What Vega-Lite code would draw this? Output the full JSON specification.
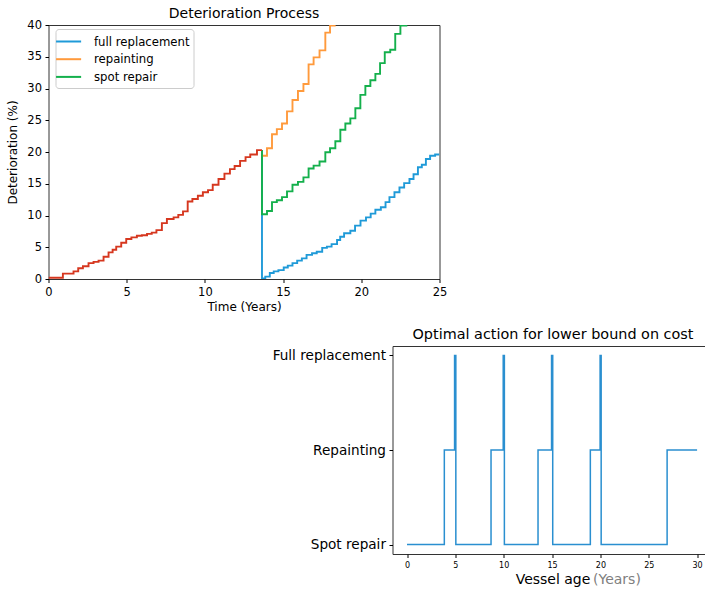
{
  "$schema": "https://vega.github.io/schema/vega-lite/v6.json",
  "autosize": {"type": "pad"},
  "padding": {"left": 5.5, "top": 6, "right": 0, "bottom": 0},
  "bounds": "flush",
  "spacing": 67,
  "config": {
    "font": "DejaVu Sans",
    "view": {"stroke": null},
    "axis": {
      "domain": false,
      "grid": false,
      "ticks": true,
      "tickColor": "#000",
      "tickSize": 3.5,
      "labelColor": "#000",
      "titleColor": "#000",
      "labelPadding": 3.5,
      "labelFlush": false,
      "labelOverlap": false,
      "titleFontWeight": "normal",
      "labelFontSize": 11.5,
      "titleFontSize": 12
    },
    "title": {"color": "#000", "fontWeight": "normal"}
  },
  "datasets": {
    "initial": [
      {"t": 0, "d": 0.2}, {"t": 0.92, "d": 0.85}, {"t": 1.6, "d": 1.2}, {"t": 1.9, "d": 1.7},
      {"t": 2.2, "d": 2.0}, {"t": 2.56, "d": 2.5}, {"t": 2.88, "d": 2.7}, {"t": 3.2, "d": 2.9},
      {"t": 3.52, "d": 3.5}, {"t": 3.84, "d": 4.2}, {"t": 4.1, "d": 4.6}, {"t": 4.33, "d": 5.1},
      {"t": 4.65, "d": 5.7}, {"t": 4.97, "d": 6.3}, {"t": 5.3, "d": 6.55}, {"t": 5.65, "d": 6.8},
      {"t": 5.97, "d": 6.9}, {"t": 6.3, "d": 7.1}, {"t": 6.6, "d": 7.3}, {"t": 6.9, "d": 7.7},
      {"t": 7.25, "d": 8.8}, {"t": 7.57, "d": 9.45}, {"t": 8.0, "d": 9.7}, {"t": 8.3, "d": 10.1},
      {"t": 8.6, "d": 10.65}, {"t": 8.9, "d": 12.2}, {"t": 9.2, "d": 12.6}, {"t": 9.55, "d": 13.1},
      {"t": 9.87, "d": 13.65}, {"t": 10.2, "d": 14.0}, {"t": 10.5, "d": 14.85}, {"t": 10.87, "d": 15.75},
      {"t": 11.25, "d": 16.6}, {"t": 11.6, "d": 17.3}, {"t": 11.9, "d": 17.8}, {"t": 12.25, "d": 18.6},
      {"t": 12.6, "d": 19.2}, {"t": 12.9, "d": 19.6}, {"t": 13.33, "d": 20.3}, {"t": 13.65, "d": 20.3}
    ],
    "branches": [
      {"s": "full replacement", "i": 0, "t": 13.65, "d": 20.3},
      {"s": "full replacement", "i": 1, "t": 13.65, "d": 0.1},
      {"s": "full replacement", "i": 2, "t": 13.86, "d": 0.37},
      {"s": "full replacement", "i": 3, "t": 14.15, "d": 0.95},
      {"s": "full replacement", "i": 4, "t": 14.4, "d": 1.2},
      {"s": "full replacement", "i": 5, "t": 14.7, "d": 1.4},
      {"s": "full replacement", "i": 6, "t": 15.04, "d": 1.8},
      {"s": "full replacement", "i": 7, "t": 15.3, "d": 2.1},
      {"s": "full replacement", "i": 8, "t": 15.6, "d": 2.5},
      {"s": "full replacement", "i": 9, "t": 15.9, "d": 2.9},
      {"s": "full replacement", "i": 10, "t": 16.2, "d": 3.25},
      {"s": "full replacement", "i": 11, "t": 16.5, "d": 3.8},
      {"s": "full replacement", "i": 12, "t": 16.85, "d": 4.05},
      {"s": "full replacement", "i": 13, "t": 17.15, "d": 4.3},
      {"s": "full replacement", "i": 14, "t": 17.5, "d": 4.9},
      {"s": "full replacement", "i": 15, "t": 17.8, "d": 5.1},
      {"s": "full replacement", "i": 16, "t": 18.1, "d": 5.5},
      {"s": "full replacement", "i": 17, "t": 18.45, "d": 6.15},
      {"s": "full replacement", "i": 18, "t": 18.65, "d": 6.65},
      {"s": "full replacement", "i": 19, "t": 18.9, "d": 7.2},
      {"s": "full replacement", "i": 20, "t": 19.3, "d": 7.6},
      {"s": "full replacement", "i": 21, "t": 19.6, "d": 8.4},
      {"s": "full replacement", "i": 22, "t": 19.95, "d": 9.2},
      {"s": "full replacement", "i": 23, "t": 20.3, "d": 9.7},
      {"s": "full replacement", "i": 24, "t": 20.6, "d": 10.3},
      {"s": "full replacement", "i": 25, "t": 20.9, "d": 10.9},
      {"s": "full replacement", "i": 26, "t": 21.25, "d": 11.3},
      {"s": "full replacement", "i": 27, "t": 21.55, "d": 12.1},
      {"s": "full replacement", "i": 28, "t": 21.8, "d": 12.9},
      {"s": "full replacement", "i": 29, "t": 22.12, "d": 13.65},
      {"s": "full replacement", "i": 30, "t": 22.44, "d": 14.4},
      {"s": "full replacement", "i": 31, "t": 22.74, "d": 15.1},
      {"s": "full replacement", "i": 32, "t": 23.08, "d": 15.75},
      {"s": "full replacement", "i": 33, "t": 23.34, "d": 16.5},
      {"s": "full replacement", "i": 34, "t": 23.62, "d": 17.6},
      {"s": "full replacement", "i": 35, "t": 23.87, "d": 18.0},
      {"s": "full replacement", "i": 36, "t": 24.13, "d": 18.9},
      {"s": "full replacement", "i": 37, "t": 24.4, "d": 19.4},
      {"s": "full replacement", "i": 38, "t": 24.72, "d": 19.6},
      {"s": "full replacement", "i": 39, "t": 25, "d": 19.6},
      {"s": "repainting", "i": 0, "t": 13.65, "d": 20.3},
      {"s": "repainting", "i": 1, "t": 13.65, "d": 19.4},
      {"s": "repainting", "i": 2, "t": 13.97, "d": 20.6},
      {"s": "repainting", "i": 3, "t": 14.29, "d": 22.8},
      {"s": "repainting", "i": 4, "t": 14.6, "d": 23.6},
      {"s": "repainting", "i": 5, "t": 14.93, "d": 24.5},
      {"s": "repainting", "i": 6, "t": 15.25, "d": 26.4},
      {"s": "repainting", "i": 7, "t": 15.6, "d": 28.2},
      {"s": "repainting", "i": 8, "t": 15.95, "d": 29.6},
      {"s": "repainting", "i": 9, "t": 16.3, "d": 30.7},
      {"s": "repainting", "i": 10, "t": 16.63, "d": 33.8},
      {"s": "repainting", "i": 11, "t": 16.95, "d": 34.9},
      {"s": "repainting", "i": 12, "t": 17.33, "d": 36.0},
      {"s": "repainting", "i": 13, "t": 17.7, "d": 38.8},
      {"s": "repainting", "i": 14, "t": 18.0, "d": 39.9},
      {"s": "repainting", "i": 15, "t": 18.3, "d": 41.5},
      {"s": "repainting", "i": 16, "t": 18.6, "d": 43},
      {"s": "spot repair", "i": 0, "t": 13.65, "d": 20.3},
      {"s": "spot repair", "i": 1, "t": 13.65, "d": 10.2},
      {"s": "spot repair", "i": 2, "t": 13.97, "d": 10.7},
      {"s": "spot repair", "i": 3, "t": 14.29, "d": 12.1},
      {"s": "spot repair", "i": 4, "t": 14.6, "d": 12.4},
      {"s": "spot repair", "i": 5, "t": 14.93, "d": 12.9},
      {"s": "spot repair", "i": 6, "t": 15.25, "d": 13.8},
      {"s": "spot repair", "i": 7, "t": 15.6, "d": 14.85},
      {"s": "spot repair", "i": 8, "t": 15.95, "d": 15.3},
      {"s": "spot repair", "i": 9, "t": 16.3, "d": 16.0},
      {"s": "spot repair", "i": 10, "t": 16.63, "d": 17.4},
      {"s": "spot repair", "i": 11, "t": 16.95, "d": 17.85},
      {"s": "spot repair", "i": 12, "t": 17.33, "d": 18.5},
      {"s": "spot repair", "i": 13, "t": 17.7, "d": 19.95},
      {"s": "spot repair", "i": 14, "t": 18.0, "d": 20.6},
      {"s": "spot repair", "i": 15, "t": 18.34, "d": 21.7},
      {"s": "spot repair", "i": 16, "t": 18.66, "d": 23.5},
      {"s": "spot repair", "i": 17, "t": 18.98, "d": 24.5},
      {"s": "spot repair", "i": 18, "t": 19.3, "d": 25.3},
      {"s": "spot repair", "i": 19, "t": 19.62, "d": 26.9},
      {"s": "spot repair", "i": 20, "t": 19.94, "d": 29.0},
      {"s": "spot repair", "i": 21, "t": 20.26, "d": 30.4},
      {"s": "spot repair", "i": 22, "t": 20.58, "d": 31.3},
      {"s": "spot repair", "i": 23, "t": 20.9, "d": 32.3},
      {"s": "spot repair", "i": 24, "t": 21.2, "d": 34.0},
      {"s": "spot repair", "i": 25, "t": 21.5, "d": 35.7},
      {"s": "spot repair", "i": 26, "t": 21.85, "d": 36.1},
      {"s": "spot repair", "i": 27, "t": 22.17, "d": 38.6},
      {"s": "spot repair", "i": 28, "t": 22.5, "d": 39.9},
      {"s": "spot repair", "i": 29, "t": 22.88, "d": 41.5},
      {"s": "spot repair", "i": 30, "t": 23.2, "d": 43}
    ],
    "action": [
      {"t": 0, "a": 0}, {"t": 3.86, "a": 1}, {"t": 4.92, "a": 2}, {"t": 5.05, "a": 0},
      {"t": 8.69, "a": 1}, {"t": 9.95, "a": 2}, {"t": 10.07, "a": 0},
      {"t": 13.55, "a": 1}, {"t": 14.95, "a": 2}, {"t": 15.07, "a": 0},
      {"t": 18.96, "a": 1}, {"t": 19.97, "a": 2}, {"t": 20.08, "a": 0},
      {"t": 26.9, "a": 1}, {"t": 30, "a": 1}
    ]
  },
  "vconcat": [
    {
      "title": {"text": "Deterioration Process", "fontSize": 14, "offset": -2},
      "width": 391,
      "height": 254,
      "view": {"stroke": "#333", "strokeWidth": 1},
      "encoding": {
        "x": {"field": "t", "type": "quantitative", "scale": {"domain": [0, 25], "nice": false},
              "axis": {"values": [0, 5, 10, 15, 20, 25], "title": "Time (Years)"}},
        "y": {"field": "d", "type": "quantitative", "scale": {"domain": [0, 40], "nice": false},
              "axis": {"values": [0, 5, 10, 15, 20, 25, 30, 35, 40], "title": "Deterioration (%)", "titlePadding": 7}}
      },
      "layer": [
        {
          "data": {"name": "branches"},
          "mark": {"type": "line", "interpolate": "step-after", "strokeWidth": 1.9, "clip": true},
          "encoding": {
            "color": {"field": "s", "type": "nominal",
                      "scale": {"domain": ["full replacement", "repainting", "spot repair"], "range": ["#1f9ad8", "#ff9a3c", "#14b04c"]},
                      "legend": {"title": null, "orient": "none", "legendX": 7, "legendY": 4, "fillColor": "#fff", "strokeColor": "#ccc",
                                 "cornerRadius": 3, "padding": 3.5, "symbolType": "M-1.51,0H1.66", "symbolStrokeWidth": 2,
                                 "symbolSize": 250, "labelFontSize": 11.7, "labelColor": "#000", "labelOffset": 17, "rowPadding": 1.7}},
            "order": {"field": "i", "type": "quantitative"}
          }
        },
        {
          "data": {"name": "initial"},
          "mark": {"type": "line", "interpolate": "step-after", "strokeWidth": 1.9, "color": "#d6371f", "clip": true}
        }
      ]
    },
    {
      "hconcat": [
        {
          "width": 344,
          "height": 208,
          "data": {"values": [{"k": 1}]},
          "mark": {"type": "point", "opacity": 0},
          "encoding": {}
        },
        {
          "title": {"text": "Optimal action for lower bound on cost", "fontSize": 14.4, "offset": 4, "dx": 4},
          "width": 313,
          "height": 208,
          "view": {"stroke": "#333", "strokeWidth": 1},
          "data": {"name": "action"},
          "encoding": {
            "y": {"field": "a", "type": "quantitative", "scale": {"domain": [-0.1, 2.1], "nice": false, "zero": false},
                  "axis": {"values": [0, 1, 2], "title": null, "labelFontSize": 13.6,
                           "labelExpr": "datum.value == 0 ? 'Spot repair' : datum.value == 1 ? 'Repainting' : 'Full replacement'"}}
          },
          "layer": [
            {
              "mark": {"type": "line", "interpolate": "step-after", "strokeWidth": 1.5, "color": "#2a8fd0"},
              "encoding": {
                "x": {"field": "t", "type": "quantitative", "scale": {"domain": [-1.5, 30.87], "nice": false, "zero": false},
                      "axis": {"orient": "bottom", "values": [0, 5, 10, 15, 20, 25, 30], "title": "Vessel age", "labelFontSize": 8, "titleFontSize": 14, "titlePadding": 3, "titleX": 160}}
              }
            },
            {
              "mark": {"type": "line", "interpolate": "step-after", "opacity": 0},
              "encoding": {
                "x": {"field": "t", "type": "quantitative", "scale": {"domain": [-1.5, 30.87], "nice": false, "zero": false},
                      "axis": {"orient": "bottom", "labels": false, "ticks": false, "domain": false, "title": "(Years)", "titleColor": "#808080",
                               "titleFontSize": 14, "titleX": 200, "titleY": 18, "titleAlign": "left", "titleBaseline": "top"}}
              }
            }
          ],
          "resolve": {"scale": {"x": "independent"}, "axis": {"x": "independent"}}
        }
      ],
      "spacing": 0,
      "bounds": "flush"
    }
  ]
}
